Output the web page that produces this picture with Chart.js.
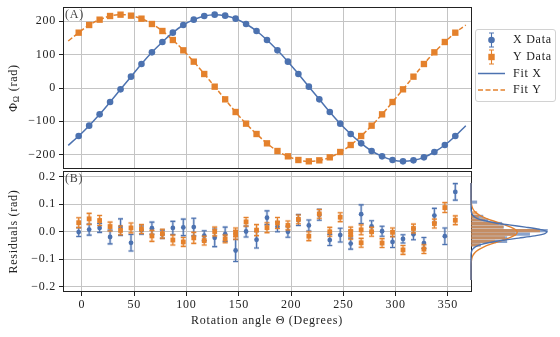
<!DOCTYPE html>
<html>
<head>
<meta charset="UTF-8" />
<title>Phase fit and residuals</title>
<script src="https://cdn.jsdelivr.net/npm/chart.js"></script>
<style>
    body { margin: 0; background: #fff; }
    #wrap { position: relative; width: 560px; height: 337px; }
    canvas { position: absolute; }
    #phaseChart { left: 0; top: 0; }
    #resChart { left: 0; top: 169px; }
    #histChart { left: 470px; top: 169px; }
</style>
</head>
<body>
<div id="wrap">
    <canvas id="phaseChart" width="560" height="169"></canvas>
    <canvas id="resChart" width="560" height="168"></canvas>
    <canvas id="histChart" width="90" height="168"></canvas>
</div>

<script type="text/javascript">
    // rotation angles (degrees)
    const angles = [-3, 7, 17, 27, 37, 47, 57, 67, 77, 87, 97, 107, 117, 127, 137, 147, 157, 167, 177,
        187, 197, 207, 217, 227, 237, 247, 257, 267, 277, 287, 297, 307, 317, 327, 337, 347, 357];

    // measured phase (rad)
    const phiX = [-144, -113, -79, -42, -4, 34, 72, 107, 138, 166, 189, 205, 216, 220, 217, 208, 192, 171, 144,
        113, 79, 42, 4, -34, -72, -107, -138, -166, -189, -205, -216, -220, -217, -208, -192, -171, -144];
    const phiY = [166, 189, 205, 216, 220, 217, 208, 192, 171, 144, 113, 79, 42, 4, -34, -72, -107, -138, -166,
        -189, -205, -216, -220, -217, -208, -192, -171, -144, -113, -79, -42, -4, 34, 72, 107, 138, 166];

    // fit curves, read at the same angles plus both ends
    const fitAngles = [-13, ...angles, 367];
    const fitX = [-172, ...phiX, -113];
    const fitY = [141, ...phiY, 189];

    // residuals (rad) and their errors
    const resX = [-0.002, 0.007, 0.013, -0.020, 0.016, -0.041, 0.005, 0.012, -0.010, 0.013, 0.015, 0.016, -0.015,
        -0.023, -0.010, -0.069, 0.000, -0.030, 0.050, 0.017, -0.001, 0.042, 0.022, 0.061, -0.031, -0.013, -0.044,
        0.063, 0.019, 0.001, -0.038, -0.027, -0.010, -0.042, 0.058, -0.017, 0.144];
    const errX = [0.016, 0.02, 0.016, 0.025, 0.03, 0.03, 0.015, 0.022, 0.015, 0.024, 0.03, 0.032, 0.018, 0.032,
        0.026, 0.04, 0.02, 0.03, 0.025, 0.018, 0.02, 0.02, 0.02, 0.02, 0.02, 0.025, 0.02, 0.034, 0.02, 0.018,
        0.02, 0.015, 0.02, 0.02, 0.026, 0.03, 0.03];
    const resY = [0.032, 0.046, 0.040, 0.018, 0.004, 0.013, 0.009, -0.016, -0.008, -0.031, -0.038, -0.023, -0.033,
        0.000, -0.027, -0.003, 0.035, 0.005, 0.014, 0.031, 0.022, 0.044, -0.017, 0.064, -0.001, 0.052, 0.000,
        0.006, -0.001, -0.042, -0.003, -0.067, 0.011, -0.064, 0.029, 0.087, 0.041];
    const errY = [0.018, 0.02, 0.018, 0.016, 0.016, 0.018, 0.016, 0.02, 0.016, 0.018, 0.016, 0.02, 0.016, 0.016,
        0.014, 0.016, 0.016, 0.02, 0.018, 0.02, 0.016, 0.016, 0.016, 0.016, 0.016, 0.016, 0.016, 0.018, 0.016,
        0.016, 0.016, 0.016, 0.016, 0.016, 0.016, 0.018, 0.016];
    // repeated Y measurements
    const repeatAngles = [147, 257, 267];
    const repeatResY = [-0.012, -0.012, -0.041];
    const repeatErrY = [0.016, 0.016, 0.016];

    // residual histograms (bin centres, heights)
    const histCentres = [-0.0608, -0.0446, -0.0284, -0.0122, 0.004, 0.0202, 0.0364, 0.0526, 0.0688, 0.085,
        0.1012, 0.1174, 0.1336];
    const histX = [1.8, 6.5, 6.5, 10.6, 13.8, 5.9, 5.6, 3.1, 2.2, 0, 0, 0, 1.1];
    const histY = [1.6, 4.3, 6.1, 7.9, 12.4, 5.8, 5.0, 2.5, 1.4, 1.1, 0, 0, 0];

    // gaussian curves over the histograms
    const curveRes = [-0.22, -0.16, -0.14, -0.12, -0.11, -0.10, -0.09, -0.08, -0.07, -0.06, -0.05, -0.04, -0.03,
        -0.02, -0.01, 0.00, 0.01, 0.02, 0.03, 0.04, 0.05, 0.06, 0.07, 0.08, 0.09, 0.10, 0.11, 0.12, 0.14, 0.16, 0.22];
    const curveX = [0, 0, 0, 0.002, 0.01, 0.034, 0.11, 0.31, 0.78, 1.73, 3.35, 5.72, 8.61, 11.40, 13.28, 13.62,
        12.31, 9.78, 6.84, 4.21, 2.28, 1.09, 0.46, 0.17, 0.055, 0.016, 0.004, 0.001, 0, 0, 0];
    const curveY = [0, 0.008, 0.04, 0.17, 0.32, 0.58, 0.97, 1.54, 2.33, 3.30, 4.44, 5.63, 6.75, 7.65, 8.19, 8.28,
        7.91, 7.15, 6.10, 4.92, 3.74, 2.70, 1.83, 1.18, 0.71, 0.41, 0.22, 0.11, 0.025, 0.004, 0];

    // ticks
    const angleTicks = [0, 50, 100, 150, 200, 250, 300, 350];
    const phiTicks = [-200, -100, 0, 100, 200];
    const resTicks = [-0.2, -0.1, 0, 0.1, 0.2];

    const blue = '#4c72b0';
    const orange = '#e4812c';
    const gridColor = '#c4c4c4';
    const ink = '#222222';
    const serif = "'Liberation Serif', 'Times New Roman', serif";

    Chart.defaults.font.family = serif;
    Chart.defaults.font.size = 12;
    Chart.defaults.color = ink;

    function pts(xs, ys) {
        return xs.map((x, i) => ({ x: x, y: ys[i] }));
    }
    function minus(v, digits) {
        const s = digits === undefined ? String(Math.abs(v)) : Math.abs(v).toFixed(digits);
        return (v < 0 ? '\u2212' : '') + s;
    }
    // fixed axis box, no extra label overhang padding
    function fixBox(size) {
        return s => {
            if (s.isHorizontal()) s.height = size; else s.width = size;
            s.paddingTop = 0; s.paddingBottom = 0; s.paddingLeft = 0; s.paddingRight = 0;
        };
    }

    const textSpacing = {
        id: 'textSpacing',
        beforeDraw(chart) { chart.ctx.letterSpacing = '0.75px'; }
    };

    // vertical error bars with caps, drawn under each dataset's markers
    const errorBars = {
        id: 'errorBars',
        beforeDatasetDraw(chart, args) {
            const ds = chart.data.datasets[args.index];
            if (!ds.errors) return;
            const yScale = chart.scales[args.meta.yAxisID];
            const ctx = chart.ctx;
            ctx.save();
            [[2.6, 0.3], [1.1, 1]].forEach(([w, a]) => {
                ctx.globalAlpha = a;
                ctx.lineWidth = w;
                ctx.strokeStyle = ds.borderColor;
                ctx.beginPath();
                args.meta.data.forEach((pt, i) => {
                    const v = ds.data[i].y, e = ds.errors[i];
                    const top = yScale.getPixelForValue(v + e);
                    const bot = yScale.getPixelForValue(v - e);
                    ctx.moveTo(pt.x, top); ctx.lineTo(pt.x, bot);
                    ctx.moveTo(pt.x - 2.5, top); ctx.lineTo(pt.x + 2.5, top);
                    ctx.moveTo(pt.x - 2.5, bot); ctx.lineTo(pt.x + 2.5, bot);
                });
                ctx.stroke();
            });
            ctx.restore();
        }
    };

    // axes frame and panel letter
    const frame = {
        id: 'frame',
        afterDraw(chart, args, opts) {
            const a = chart.chartArea, ctx = chart.ctx;
            ctx.save();
            ctx.strokeStyle = ink;
            ctx.lineWidth = 1;
            ctx.strokeRect(Math.round(a.left) + 0.5, Math.round(a.top) + 0.5,
                Math.round(a.right - a.left), Math.round(a.bottom - a.top) - 1);
            ctx.font = '12px ' + serif;
            ctx.fillStyle = '#444';
            ctx.textBaseline = 'middle';
            ctx.fillText(opts.label, a.left + 2, a.top + 8);
            ctx.restore();
        }
    };

    // y title with subscript and the legend of the top panel
    const phaseExtras = {
        id: 'phaseExtras',
        afterDraw(chart) {
            const ctx = chart.ctx, a = chart.chartArea;
            ctx.save();
            ctx.fillStyle = ink;
            ctx.textBaseline = 'middle';
            ctx.translate(14, (a.top + a.bottom) / 2);
            ctx.rotate(-Math.PI / 2);
            const big = '12px ' + serif, small = '8.5px ' + serif;
            ctx.font = big;
            const w1 = ctx.measureText('\u03A6').width, w3 = ctx.measureText(' (rad)').width;
            ctx.font = small;
            const w2 = ctx.measureText('\u03A9').width;
            let x = -(w1 + w2 + w3) / 2;
            ctx.font = big; ctx.fillText('\u03A6', x, 0);
            ctx.font = small; ctx.fillText('\u03A9', x + w1, 3);
            ctx.font = big; ctx.fillText(' (rad)', x + w1 + w2, 0);
            ctx.restore();

            ctx.save();
            ctx.beginPath();
            ctx.roundRect(475.5, 29.5, 80, 72, 2.5);
            ctx.fillStyle = 'rgba(255,255,255,0.8)';
            ctx.fill();
            ctx.strokeStyle = '#d2d2d2';
            ctx.lineWidth = 1;
            ctx.stroke();
            const rows = [40, 57, 73.5, 90];
            chart.data.datasets.forEach((ds, i) => {
                const y = rows[i], mx = 491.5;
                ctx.strokeStyle = ds.borderColor;
                ctx.fillStyle = ds.borderColor;
                if (ds.showLine) {
                    ctx.lineWidth = 1.5;
                    ctx.setLineDash(ds.borderDash || []);
                    ctx.beginPath(); ctx.moveTo(478, y); ctx.lineTo(505, y); ctx.stroke();
                    ctx.setLineDash([]);
                } else {
                    ctx.lineWidth = 1.1;
                    ctx.beginPath();
                    ctx.moveTo(mx, y - 7); ctx.lineTo(mx, y + 7);
                    ctx.moveTo(mx - 2.5, y - 7); ctx.lineTo(mx + 2.5, y - 7);
                    ctx.moveTo(mx - 2.5, y + 7); ctx.lineTo(mx + 2.5, y + 7);
                    ctx.stroke();
                    ctx.beginPath();
                    if (ds.pointStyle === 'rect') ctx.rect(mx - 3.2, y - 3.2, 6.4, 6.4);
                    else ctx.arc(mx, y, 3.3, 0, Math.PI * 2);
                    ctx.fill();
                }
                ctx.fillStyle = ink;
                ctx.font = '12px ' + serif;
                ctx.textBaseline = 'middle';
                ctx.fillText(ds.label, 513, y);
            });
            ctx.restore();
        }
    };

    const noInteraction = { legend: { display: false }, tooltip: { enabled: false } };

    new Chart(document.getElementById('phaseChart'), {
        type: 'scatter',
        data: {
            datasets: [
                { label: 'X Data', data: pts(angles, phiX), pointStyle: 'circle', pointRadius: 3.3,
                  backgroundColor: blue, borderColor: blue, borderWidth: 0, order: 1 },
                { label: 'Y Data', data: pts(angles, phiY), pointStyle: 'rect', pointRadius: 4.5,
                  backgroundColor: orange, borderColor: orange, borderWidth: 0, order: 1 },
                { label: 'Fit X', data: pts(fitAngles, fitX), showLine: true, pointRadius: 0, tension: 0.4,
                  borderColor: blue, borderWidth: 1.5, order: 2 },
                { label: 'Fit Y', data: pts(fitAngles, fitY), showLine: true, pointRadius: 0, tension: 0.4,
                  borderColor: orange, borderWidth: 1.5, borderDash: [5, 2.5], order: 2 }
            ]
        },
        options: {
            responsive: false,
            animation: false,
            devicePixelRatio: 1,
            layout: { autoPadding: false, padding: { left: 0, right: 89, top: 7, bottom: 0 } },
            plugins: Object.assign({ frame: { label: '(A)' } }, noInteraction),
            scales: {
                x: {
                    type: 'linear', min: -18, max: 372,
                    afterBuildTicks: s => { s.ticks = angleTicks.map(v => ({ value: v })); },
                    afterFit: fixBox(0),
                    ticks: { display: false },
                    grid: { color: gridColor, drawTicks: false },
                    border: { display: false }
                },
                y: {
                    min: -243, max: 243,
                    afterBuildTicks: s => { s.ticks = phiTicks.map(v => ({ value: v })); },
                    afterFit: fixBox(63),
                    ticks: { callback: v => minus(v), padding: 3 },
                    grid: { color: gridColor, tickColor: ink, tickLength: 4 },
                    border: { display: false }
                }
            }
        },
        plugins: [textSpacing, frame, phaseExtras]
    });

    new Chart(document.getElementById('resChart'), {
        type: 'scatter',
        data: {
            datasets: [
                { label: 'X Data', data: pts(angles, resX), errors: errX, pointStyle: 'circle', pointRadius: 2.4,
                  backgroundColor: blue, borderColor: blue, borderWidth: 0, order: 1 },
                { label: 'Y Data', data: pts(angles.concat(repeatAngles), resY.concat(repeatResY)),
                  errors: errY.concat(repeatErrY), pointStyle: 'rect', pointRadius: 3.4,
                  backgroundColor: orange, borderColor: orange, borderWidth: 0, order: 0 }
            ]
        },
        options: {
            responsive: false,
            animation: false,
            devicePixelRatio: 1,
            layout: { autoPadding: false, padding: { left: 0, right: 89, top: 2, bottom: 0 } },
            plugins: Object.assign({ frame: { label: '(B)' } }, noInteraction),
            scales: {
                x: {
                    type: 'linear', min: -18, max: 372,
                    afterBuildTicks: s => { s.ticks = angleTicks.map(v => ({ value: v })); },
                    afterFit: fixBox(45),
                    ticks: { padding: 2 },
                    grid: { color: gridColor, tickColor: ink, tickLength: 4 },
                    border: { display: false },
                    title: { display: true, text: 'Rotation angle \u0398 (Degrees)', padding: 8.5,
                             font: { size: 12 } }
                },
                y: {
                    min: -0.22, max: 0.22,
                    afterBuildTicks: s => { s.ticks = resTicks.map(v => ({ value: v })); },
                    afterFit: fixBox(63),
                    ticks: { callback: v => minus(v, 1), padding: 3 },
                    grid: { color: gridColor, tickColor: ink, tickLength: 4 },
                    border: { display: false },
                    title: { display: true, text: 'Residuals (rad)', padding: 7, font: { size: 12 } }
                }
            }
        },
        plugins: [textSpacing, errorBars, frame]
    });

    new Chart(document.getElementById('histChart'), {
        type: 'bar',
        data: {
            datasets: [
                { type: 'line', label: 'X fit', data: pts(curveX, curveRes), indexAxis: 'y', borderColor: blue,
                  borderWidth: 1.4, pointRadius: 0, tension: 0.3, clip: false, order: 0 },
                { type: 'line', label: 'Y fit', data: pts(curveY, curveRes), indexAxis: 'y', borderColor: orange,
                  borderWidth: 1.4, pointRadius: 0, tension: 0.3, clip: false, order: 0 },
                { label: 'Y', data: pts(histY, histCentres), backgroundColor: 'rgba(228,129,44,0.65)',
                  grouped: false, barPercentage: 0.88, categoryPercentage: 1, order: 1 },
                { label: 'X', data: pts(histX, histCentres), backgroundColor: 'rgba(76,114,176,0.65)',
                  grouped: false, barPercentage: 0.88, categoryPercentage: 1, order: 2 }
            ]
        },
        options: {
            indexAxis: 'y',
            responsive: false,
            animation: false,
            devicePixelRatio: 1,
            layout: { autoPadding: false, padding: { left: 1, right: 0, top: 2, bottom: 45 } },
            plugins: noInteraction,
            scales: {
                x: { type: 'linear', min: 0, max: 16, display: false },
                y: { type: 'linear', min: -0.22, max: 0.22, display: false }
            }
        }
    });
</script>
</body>
</html>
